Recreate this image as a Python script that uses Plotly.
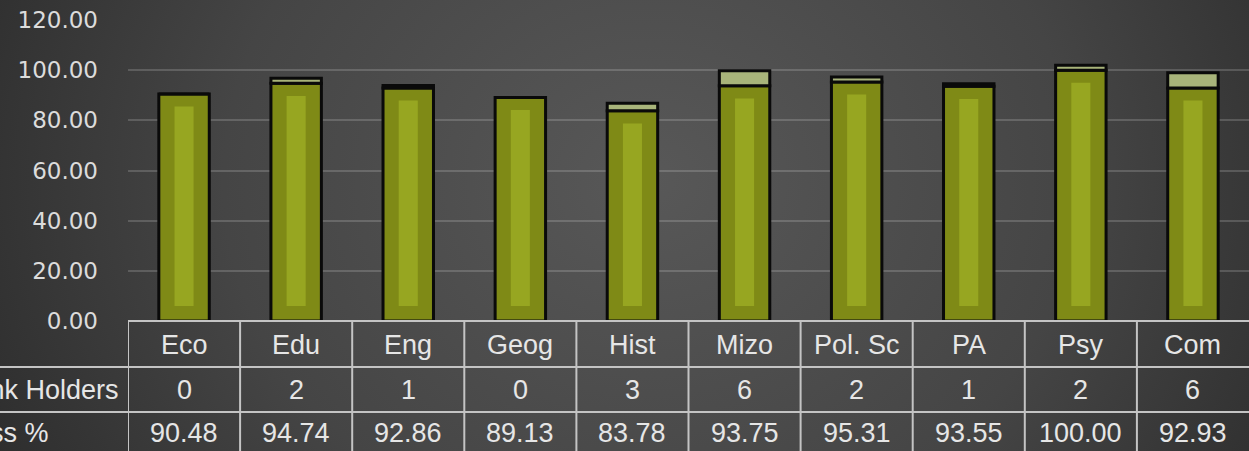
import base64
import plotly.graph_objects as go

subjects = ["Eco", "Edu", "Eng", "Geog", "Hist", "Mizo", "Pol. Sc", "PA", "Psy", "Com"]
rank_holders = [0, 2, 1, 0, 3, 6, 2, 1, 2, 6]
pass_pct = [90.48, 94.74, 92.86, 89.13, 83.78, 93.75, 95.31, 93.55, 100.00, 92.93]
row_labels = ["Rank Holders", "Pass %"]
y_ticks = [0, 20, 40, 60, 80, 100, 120]

W, H = 1249, 451


def py(p):
    return 1 - p / H


def px(p):
    return p / W


xs = list(range(len(subjects)))

svg = f"""<svg xmlns='http://www.w3.org/2000/svg' width='{W}' height='{H}'>
<defs><radialGradient id='g' cx='52%' cy='40%' r='62%' gradientUnits='objectBoundingBox'
 gradientTransform='translate(0.52 0.4) scale(1 2.4) translate(-0.52 -0.4)'>
<stop offset='0' stop-color='#585858'/><stop offset='0.55' stop-color='#454545'/>
<stop offset='1' stop-color='#2a2a2a'/></radialGradient></defs>
<rect width='100%' height='100%' fill='url(#g)'/></svg>"""
bg_src = "data:image/svg+xml;base64," + base64.b64encode(svg.encode()).decode()

fig = go.Figure()
fig.add_trace(go.Bar(
    x=xs, y=pass_pct, base=0, width=0.45, name=row_labels[1],
    marker=dict(color="#7F8A16", line=dict(color="#0a0a0a", width=3)),
))
fig.add_trace(go.Bar(
    x=xs, y=[p - 11 for p in pass_pct], base=6, width=0.17, hoverinfo="skip",
    showlegend=False, marker=dict(color="#97A621", line=dict(width=0)),
))
fig.add_trace(go.Bar(
    x=xs, y=rank_holders, base=pass_pct, width=0.45, name=row_labels[0],
    marker=dict(color="#A8B47A", line=dict(color="#0a0a0a", width=3)),
))

shapes = []
line_col = "#c4c4c4"
shapes.append(dict(type="line", xref="paper", yref="paper", x0=px(128), x1=1,
                   y0=py(321), y1=py(321), line=dict(color=line_col, width=2)))
for yy in (367, 412):
    shapes.append(dict(type="line", xref="paper", yref="paper", x0=0, x1=1,
                       y0=py(yy), y1=py(yy), line=dict(color=line_col, width=2)))
for i in range(len(subjects)):
    shapes.append(dict(type="line", xref="x", yref="paper", x0=i - 0.5, x1=i - 0.5,
                       y0=py(321), y1=0, line=dict(color=line_col, width=2)))

tfont = dict(family="Liberation Sans Narrow, Arial Narrow, sans-serif", size=27, color="#e6e6e6")
ann = []
for i, s in enumerate(subjects):
    ann.append(dict(x=i, xref="x", y=py(345), yref="paper", yanchor="middle", text=s,
                    showarrow=False, font=tfont))
    ann.append(dict(x=i, xref="x", y=py(390), yref="paper", yanchor="middle",
                    text=str(rank_holders[i]), showarrow=False, font=tfont))
    ann.append(dict(x=i, xref="x", y=py(433), yref="paper", yanchor="middle",
                    text=f"{pass_pct[i]:.2f}", showarrow=False, font=tfont))
ann.append(dict(x=px(121), xref="paper", xanchor="right", y=py(390), yref="paper",
                yanchor="middle", text=row_labels[0], showarrow=False, font=tfont))
ann.append(dict(x=px(51), xref="paper", xanchor="right", y=py(433), yref="paper",
                yanchor="middle", text=row_labels[1], showarrow=False, font=tfont))

fig.update_layout(
    width=W, height=H, autosize=False,
    margin=dict(l=0, r=0, t=0, b=0, pad=0),
    barmode="overlay",
    showlegend=False,
    paper_bgcolor="#3a3a3a",
    plot_bgcolor="rgba(0,0,0,0)",
    images=[dict(source=bg_src, xref="paper", yref="paper", x=0, y=1, sizex=1, sizey=1,
                 sizing="stretch", layer="below", xanchor="left", yanchor="top")],
    xaxis=dict(domain=[px(128), 1], range=[-0.5, 9.5], showticklabels=False,
               showgrid=False, zeroline=False, fixedrange=True, automargin=False),
    yaxis=dict(domain=[py(321), py(20)], range=[0, 120], tickvals=y_ticks,
               tickformat=".2f", showgrid=True, gridcolor="rgba(255,255,255,0.17)",
               gridwidth=2, zeroline=False, ticklabelstandoff=29, automargin=False,
               tickfont=dict(family="DejaVu Sans, sans-serif", size=23, color="#dcdcdc")),
    shapes=shapes,
    annotations=ann,
)

post = ("document.body.style.margin='0';document.body.style.padding='0';"
        "document.body.style.overflow='hidden';"
        "document.documentElement.style.overflow='hidden';")
fig.write_html("out.html", post_script=post, config={"displayModeBar": False})
